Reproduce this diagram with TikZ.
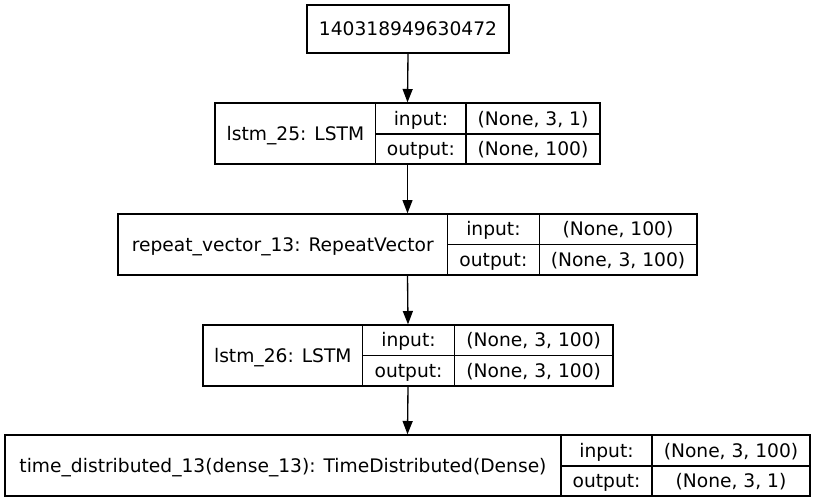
\documentclass[tikz,border=0pt]{standalone}
\usepackage{fontspec}
\setmainfont{DejaVu Sans}
\usetikzlibrary{arrows.meta}
\begin{document}
\begin{tikzpicture}[x=0.75pt,y=-0.75pt,
  rec/.style={draw=black,line width=1pt,inner sep=0pt,fill=white},
  lbl/.style={inner sep=0pt,font=\fontsize{14pt}{16pt}\selectfont,text height=13pt,text depth=3pt},
  sep/.style={draw=black,line width=1pt},
  conn/.style={draw=black,line width=1pt,-{Triangle[length=10pt,width=7.5pt]}}]
\useasboundingbox[fill=white] (0,0) rectangle (816,503);
% box 0
\node[rec,minimum width=151.5pt,minimum height=36pt] (b0) at (408,29) {};
\node[lbl] (t0) at (408,29) {140318949630472};
% box 1
\node[rec,minimum width=288.75pt,minimum height=45.75pt] (b1) at (407.5,133.5) {};
\draw[sep] (375.7,103) -- (375.7,164);
\draw[sep] (466,103) -- (466,164);
\draw[sep] (375.7,134) -- (600,134);
\node[lbl] (n1) at (295.4,133.5) {lstm\_25: LSTM};
\node[lbl] (i1) at (420.9,118.5) {input:};
\node[lbl] (o1) at (420.9,149) {output:};
\node[lbl] (vi1) at (533,118.5) {(None, 3, 1)};
\node[lbl] (vo1) at (533,149) {(None, 100)};
% box 2
\node[rec,minimum width=434.25pt,minimum height=45.75pt] (b2) at (407.5,244.5) {};
\draw[sep] (447.5,214) -- (447.5,275);
\draw[sep] (539.3,214) -- (539.3,275);
\draw[sep] (447.5,244.5) -- (697,244.5);
\node[lbl] (n2) at (282.8,244.5) {repeat\_vector\_13: RepeatVector};
\node[lbl] (i2) at (493.4,229.2) {input:};
\node[lbl] (o2) at (493.4,259.8) {output:};
\node[lbl] (vi2) at (618,229.2) {(None, 100)};
\node[lbl] (vo2) at (618,259.8) {(None, 3, 100)};
% box 3
\node[rec,minimum width=307.5pt,minimum height=45.75pt] (b3) at (408,355.5) {};
\draw[sep] (362.6,325) -- (362.6,386);
\draw[sep] (454.4,325) -- (454.4,386);
\draw[sep] (362.6,355.5) -- (613,355.5);
\node[lbl] (n3) at (282.8,355.5) {lstm\_26: LSTM};
\node[lbl] (i3) at (408.5,340.2) {input:};
\node[lbl] (o3) at (408.5,370.8) {output:};
\node[lbl] (vi3) at (533.7,340.2) {(None, 3, 100)};
\node[lbl] (vo3) at (533.7,370.8) {(None, 3, 100)};
% box 4
\node[rec,minimum width=603.75pt,minimum height=45.75pt] (b4) at (407.5,465.5) {};
\draw[sep] (561,435) -- (561,496);
\draw[sep] (652,435) -- (652,496);
\draw[sep] (561,466) -- (810,466);
\node[lbl] (n4) at (283,465.5) {time\_distributed\_13(dense\_13): TimeDistributed(Dense)};
\node[lbl] (i4) at (606.5,450.5) {input:};
\node[lbl] (o4) at (606.5,481) {output:};
\node[lbl] (vi4) at (731,450.5) {(None, 3, 100)};
\node[lbl] (vo4) at (731,481) {(None, 3, 1)};
% connectors
\draw[conn] (b0.south) -- (b1.north);
\draw[conn] (b1.south) -- (b2.north);
\draw[conn] (b2.south) -- (b3.north);
\draw[conn] (b3.south) -- (b4.north);
\end{tikzpicture}
\end{document}
